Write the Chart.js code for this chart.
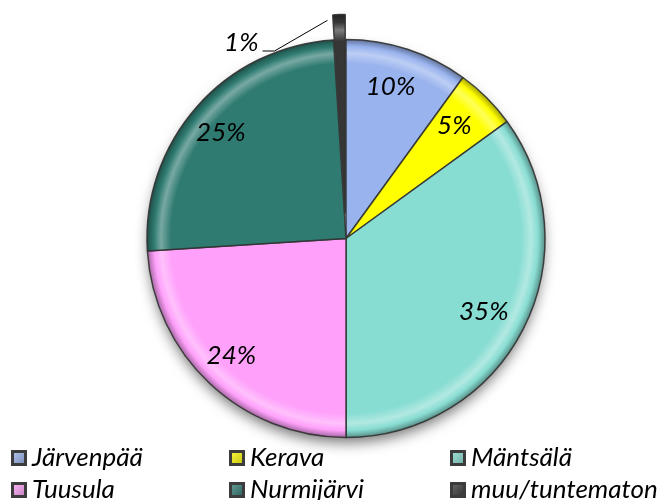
<!DOCTYPE html>
<html>
<head>
<meta charset="utf-8">
<script src="https://cdn.jsdelivr.net/npm/chart.js@4"></script>
<style>
  html, body { margin: 0; padding: 0; background: #ffffff; }
  #wrap { width: 661px; height: 500px; position: relative; }
</style>
</head>
<body>
<div id="wrap"><canvas id="c" width="661" height="500"></canvas></div>
<script>
const categories = ['Järvenpää', 'Kerava', 'Mäntsälä', 'Tuusula', 'Nurmijärvi', 'muu/tuntematon'];
const values = [10, 5, 35, 24, 25, 1];
const percentLabels = ['10%', '5%', '35%', '24%', '25%', '1%'];
const colors = ['#99b3ee', '#ffff00', '#88ddd3', '#ffa0fb', '#2f7b71', '#363636'];

const EXPLODE_PX = 25;           // pixel distance of the exploded slice
const FONT = 'italic 26px Lato, "Open Sans", sans-serif';
const RADIUS = 199;

function shade(hex, amt) {
  const n = parseInt(hex.slice(1), 16);
  let r = (n >> 16) & 255, g = (n >> 8) & 255, b = n & 255;
  if (amt >= 0) { r += (255 - r) * amt; g += (255 - g) * amt; b += (255 - b) * amt; }
  else { r *= (1 + amt); g *= (1 + amt); b *= (1 + amt); }
  return 'rgb(' + Math.round(r) + ',' + Math.round(g) + ',' + Math.round(b) + ')';
}

function isExploded(i) { return i === values.length - 1; }

function sliceFill(ctx) {
  const i = ctx.dataIndex;
  const base = colors[i];
  const chart = ctx.chart;
  const a = chart.chartArea;
  if (!a) return base;
  let cx = (a.left + a.right) / 2, cy = (a.top + a.bottom) / 2;
  const g = chart.ctx.createRadialGradient(cx, cy, 0, cx, cy, RADIUS + (isExploded(i) ? EXPLODE_PX : 0));
  g.addColorStop(0, base);
  g.addColorStop(0.88, base);
  g.addColorStop(0.93, shade(base, 0.35));
  g.addColorStop(0.965, base);
  g.addColorStop(1, shade(base, -0.35));
  return g;
}

// Pure translation of the exploded slice (keeps its radius and angle)
const explodePlugin = {
  id: 'explodeSlice',
  afterDatasetUpdate(chart, args) {
    args.meta.data.forEach((arc, i) => {
      if (!isExploded(i)) return;
      const mid = (arc.startAngle + arc.endAngle) / 2;
      arc.x += Math.cos(mid) * EXPLODE_PX;
      arc.y += Math.sin(mid) * EXPLODE_PX;
    });
  }
};

const shadowPlugin = {
  id: 'pieShadow',
  beforeDatasetsDraw(chart) {
    const a = chart.chartArea;
    const cx = (a.left + a.right) / 2, cy = (a.top + a.bottom) / 2;
    const c = chart.ctx;
    c.save();
    c.shadowColor = 'rgba(0,0,0,0.55)';
    c.shadowBlur = 14;
    c.shadowOffsetY = 7;
    c.beginPath();
    c.arc(cx, cy, RADIUS - 2, 0, Math.PI * 2);
    c.fillStyle = '#ffffff';
    c.fill();
    c.restore();
  }
};

const labelPlugin = {
  id: 'pieLabels',
  afterDatasetsDraw(chart) {
    const c = chart.ctx;
    const meta = chart.getDatasetMeta(0);
    c.save();
    c.font = FONT;
    c.fillStyle = '#000000';
    meta.data.forEach((arc, i) => {
      const mid = (arc.startAngle + arc.endAngle) / 2;
      if (isExploded(i)) {
        const ang = mid - 0.06;
        const sx = arc.x + Math.cos(ang) * (arc.outerRadius - 5);
        const sy = arc.y + Math.sin(ang) * (arc.outerRadius - 5);
        const ex = sx - 53, ey = 51;
        c.beginPath();
        c.strokeStyle = '#000000';
        c.lineWidth = 1;
        c.moveTo(sx, sy);
        c.lineTo(ex, ey);
        c.lineTo(ex - 12, ey);
        c.stroke();
        c.textAlign = 'right';
        c.textBaseline = 'alphabetic';
        c.fillText(percentLabels[i], ex - 16, ey);
        return;
      }
      const r = arc.outerRadius * 0.805;
      const x = arc.x + Math.cos(mid) * r - 5;
      const y = arc.y + Math.sin(mid) * r;
      c.textAlign = 'center';
      c.textBaseline = 'middle';
      c.fillText(percentLabels[i], x, y);
    });
    c.restore();
  }
};

const legendPlugin = {
  id: 'gridLegend',
  afterDraw(chart) {
    const c = chart.ctx;
    const colX = [11, 229, 450];
    const rowY = [450, 482];
    const box = 16;
    c.save();
    c.font = FONT;
    c.textAlign = 'left';
    c.textBaseline = 'alphabetic';
    categories.forEach((name, i) => {
      const x = colX[i % 3], y = rowY[Math.floor(i / 3)];
      c.fillStyle = '#3c3c3c';
      c.fillRect(x, y, box, box);
      const g = c.createLinearGradient(x, y, x + box, y + box);
      g.addColorStop(0, shade(colors[i], 0.3));
      g.addColorStop(1, shade(colors[i], -0.25));
      c.fillStyle = g;
      c.fillRect(x + 3, y + 3, box - 6, box - 6);
      c.fillStyle = '#000000';
      c.fillText(name, x + 21, y + box);
    });
    c.restore();
  }
};

new Chart(document.getElementById('c'), {
  type: 'pie',
  data: {
    labels: categories,
    datasets: [{
      data: values,
      backgroundColor: sliceFill,
      borderColor: 'rgba(50,50,50,0.9)',
      borderWidth: 1.5,
      offset: 0
    }]
  },
  options: {
    responsive: false,
    animation: false,
    radius: RADIUS,
    layout: { padding: { left: 100, right: 69, top: 10, bottom: 33 } },
    plugins: {
      legend: { display: false },
      tooltip: { enabled: false }
    }
  },
  plugins: [explodePlugin, shadowPlugin, labelPlugin, legendPlugin]
});
</script>
</body>
</html>
